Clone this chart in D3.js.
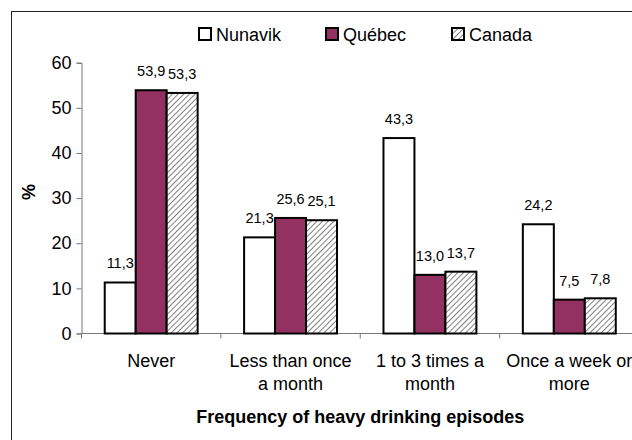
<!DOCTYPE html>
<html>
<head>
<meta charset="utf-8">
<script src="https://cdn.jsdelivr.net/npm/d3@7"></script>
<style>
  body { margin: 0; background: #fff; }
  svg { display: block; font-family: "Liberation Sans", Arial, sans-serif; }
</style>
</head>
<body>
<div id="chart"></div>
<script>
// categories and series
var categories = [["Never"], ["Less than once", "a month"], ["1 to 3 times a", "month"], ["Once a week or", "more"]];
var series = ["Nunavik", "Québec", "Canada"];
var nunavik = [11.3, 21.3, 43.3, 24.2];
var quebec = [53.9, 25.6, 13.0, 7.5];
var canada = [53.3, 25.1, 13.7, 7.8];
var yTicks = [0, 10, 20, 30, 40, 50, 60];

var values = [nunavik, quebec, canada];

var W = 632, H = 440;
var margin = {top: 62.7, left: 81.5, bottom: 440 - 333.5, right: W - 639};

var svg = d3.select("#chart").append("svg")
  .attr("width", W)
  .attr("height", H);

// hatch pattern for Canada
var defs = svg.append("defs");
var pat = defs.append("pattern")
  .attr("id", "hatch")
  .attr("patternUnits", "userSpaceOnUse")
  .attr("width", 4).attr("height", 4)
  .attr("patternTransform", "rotate(45)");
pat.append("rect").attr("width", 4).attr("height", 4).attr("fill", "#fff");
pat.append("line").attr("x1", 0).attr("y1", 0).attr("x2", 0).attr("y2", 4)
  .attr("stroke", "#555").attr("stroke-width", 1.5);

var fills = ["#ffffff", "#933160", "url(#hatch)"];

// outer frame (runs off the right and bottom edges)
svg.append("rect")
  .attr("x", 11.5).attr("y", 11.5)
  .attr("width", 700).attr("height", 500)
  .attr("fill", "none").attr("stroke", "#222").attr("stroke-width", 1);

var x0 = d3.scaleBand()
  .domain(d3.range(categories.length))
  .range([margin.left, W - margin.right]);

var x1 = d3.scaleBand()
  .domain(series)
  .range([x0.bandwidth() / 6, x0.bandwidth() * 5 / 6]);

var y = d3.scaleLinear()
  .domain([0, 60])
  .range([H - margin.bottom, margin.top]);

// y axis
var yAxis = svg.append("g")
  .attr("transform", "translate(" + margin.left + ",0)")
  .call(d3.axisLeft(y).tickValues(yTicks).tickSize(5).tickPadding(5));
yAxis.selectAll("path, line").attr("stroke", "#777");
yAxis.selectAll("text").attr("font-size", 18).attr("fill", "#000")
  .attr("font-family", "Liberation Sans, Arial, sans-serif");

// x axis: ticks between categories
var xAxis = svg.append("g")
  .attr("transform", "translate(0," + y(0) + ")");
xAxis.append("line")
  .attr("x1", margin.left).attr("x2", W)
  .attr("stroke", "#777");
xAxis.selectAll(".tk")
  .data(d3.range(categories.length + 1))
  .enter().append("line")
  .attr("x1", function(i) { return x0(0) + i * x0.step(); })
  .attr("x2", function(i) { return x0(0) + i * x0.step(); })
  .attr("y1", 0).attr("y2", 5)
  .attr("stroke", "#777");

// category labels
var cat = svg.selectAll(".cat")
  .data(categories)
  .enter().append("text")
  .attr("text-anchor", "middle")
  .attr("font-size", 18)
  .attr("x", function(d, i) { return x0(i) + x0.bandwidth() / 2; })
  .attr("y", 367);
cat.selectAll("tspan")
  .data(function(d) { return d; })
  .enter().append("tspan")
  .attr("x", function() { return d3.select(this.parentNode).attr("x"); })
  .attr("dy", function(d, i) { return i === 0 ? 0 : 23; })
  .text(function(d) { return d; });

// value labels (drawn before the bars, so bars sit on top)
var fmt = function(v) { return d3.format(".1f")(v).replace(".", ","); };
series.forEach(function(s, si) {
  svg.selectAll(".lab" + si)
    .data(values[si])
    .enter().append("text")
    .attr("text-anchor", "middle")
    .attr("font-size", 14.5)
    .attr("x", function(d, i) { return x0(i) + x1(s) + x1.bandwidth() / 2; })
    .attr("y", function(d) { return y(d) - 14; })
    .text(fmt);
});

// bars
series.forEach(function(s, si) {
  svg.selectAll(".bar" + si)
    .data(values[si])
    .enter().append("rect")
    .attr("x", function(d, i) { return x0(i) + x1(s); })
    .attr("y", function(d) { return y(d); })
    .attr("width", x1.bandwidth())
    .attr("height", function(d) { return y(0) - y(d); })
    .attr("fill", fills[si])
    .attr("stroke", "#000")
    .attr("stroke-width", 2);
});

// y axis title
svg.append("text")
  .attr("transform", "translate(35,192) rotate(-90)")
  .attr("text-anchor", "middle")
  .attr("font-size", 18)
  .attr("font-weight", "bold")
  .text("%");

// x axis title
svg.append("text")
  .attr("x", (margin.left + W - margin.right) / 2)
  .attr("y", 423)
  .attr("text-anchor", "middle")
  .attr("font-size", 18)
  .attr("font-weight", "bold")
  .text("Frequency of heavy drinking episodes");

// legend
var legX = [199, 326, 452];
var leg = svg.selectAll(".leg")
  .data(series)
  .enter().append("g")
  .attr("transform", function(d, i) { return "translate(" + legX[i] + ",28)"; });
leg.append("rect")
  .attr("width", 12).attr("height", 12)
  .attr("fill", function(d, i) { return fills[i]; })
  .attr("stroke", "#000").attr("stroke-width", 2);
leg.append("text")
  .attr("x", 17).attr("y", 13)
  .attr("font-size", 18)
  .text(function(d) { return d; });
</script>
</body>
</html>
